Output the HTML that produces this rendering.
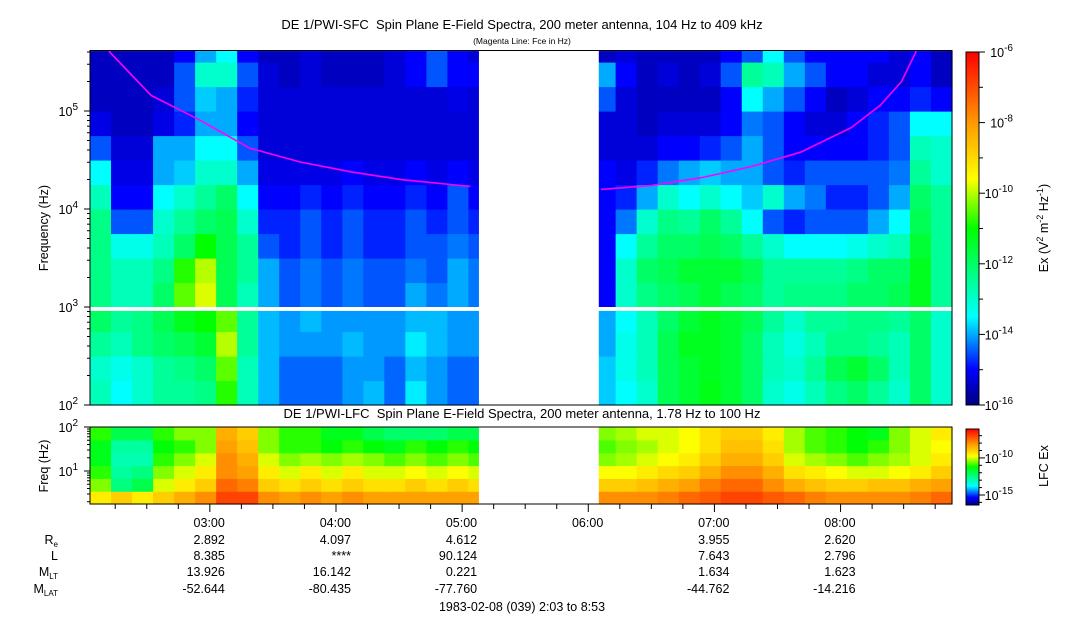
<!DOCTYPE html>
<html><head><meta charset="utf-8"><style>
html,body{margin:0;padding:0;background:#fff;}
svg{display:block;font-family:"Liberation Sans",Arial,sans-serif;}
</style></head><body>
<svg id="chart" width="1083" height="620" viewBox="0 0 1083 620" xmlns="http://www.w3.org/2000/svg">
<defs>
<linearGradient id="cmap" x1="0" y1="1" x2="0" y2="0">
<stop offset="0" stop-color="#000080"/><stop offset="0.1" stop-color="#0000ff"/><stop offset="0.25" stop-color="#00ffff"/><stop offset="0.5" stop-color="#00ff00"/><stop offset="0.64" stop-color="#ffff00"/><stop offset="0.8" stop-color="#ff9900"/><stop offset="1" stop-color="#ff0000"/>
</linearGradient>
</defs>
<g id="top-cells"></g>
<g id="low-cells"></g>
<g id="overlay"></g>
<text x="522" y="29" text-anchor="middle" font-size="13">DE 1/PWI-SFC&#160; Spin Plane E-Field Spectra, 200 meter antenna, 104 Hz to 409 kHz</text>
<text x="522" y="44" text-anchor="middle" font-size="8.5">(Magenta Line: Fce in Hz)</text>
<text x="522" y="418" text-anchor="middle" font-size="13">DE 1/PWI-LFC&#160; Spin Plane E-Field Spectra, 200 meter antenna, 1.78 Hz to 100 Hz</text>
<text transform="translate(48,228) rotate(-90)" text-anchor="middle" font-size="12.5">Frequency (Hz)</text>
<text transform="translate(48,466) rotate(-90)" text-anchor="middle" font-size="12.5">Freq (Hz)</text>
<rect x="966" y="52" width="13" height="353" fill="url(#cmap)" stroke="#000" stroke-width="1"/>
<rect x="966" y="429" width="13" height="76" fill="url(#cmap)" stroke="#000" stroke-width="1"/>
<text transform="translate(1048,228) rotate(-90)" text-anchor="middle" font-size="12.5">Ex (V<tspan dy="-5" font-size="9">2</tspan><tspan dy="5"> m</tspan><tspan dy="-5" font-size="9">-2</tspan><tspan dy="5"> Hz</tspan><tspan dy="-5" font-size="9">-1</tspan><tspan dy="5">)</tspan></text>
<text transform="translate(1048,466) rotate(-90)" text-anchor="middle" font-size="12.5">LFC Ex</text>
<g id="eph" font-size="12.5"></g>
<text x="522" y="611" text-anchor="middle" font-size="12.5">1983-02-08 (039) 2:03 to 8:53</text>
</svg>
<script>
// time columns: start minutes (since 00:00) every 10 min from 2:03
const colStart = 123, colStep = 10, nCols = 41;
const N = null;
// SFC log10(Ex); bin b covers log10 f = 2+0.25b .. 2+0.25(b+1)
const sfcBin0 = [-12.8,-13.5,-13,-12.5,-12.5,-12.3,-10.8,-12.8,-13.9,-14.4,-14.4,-14.4,-14.1,-13.9,-14.4,-13.6,-14.1,-14.4,-14.4,N,N,N,N,N,-13.8,-13.5,-13,-11.8,-11.5,-11.2,-11.5,-12,-13,-13.3,-12.8,-12.3,-12,-12.5,-13,-12,-13];
const sfcBin1 = [-13,-13.3,-13,-12.5,-12.3,-12,-10.5,-12.8,-13.9,-14.4,-14.4,-14.4,-14.1,-14.1,-14.4,-13.9,-14.1,-14.4,-14.4,N,N,N,N,N,-13.8,-13.3,-12.8,-11.8,-11.5,-11.3,-11.5,-12,-12.8,-13,-12.5,-11.8,-11.5,-12,-12.8,-12,-13];
const sfcBin2 = [-12.5,-12.8,-12.3,-12,-11.8,-11.5,-10,-12.5,-13.9,-14.1,-14.1,-14.1,-13.9,-14.1,-14.1,-13.6,-13.9,-14.1,-14.1,N,N,N,N,N,-14,-13.3,-12.8,-11.8,-11.3,-11.3,-11.5,-12,-12.8,-13.2,-12.8,-12.3,-12.3,-12.5,-12.8,-12,-13];
const sfcBin3 = [-12,-12.5,-12.3,-11.8,-11.3,-11,-10.5,-12.5,-13.9,-14.1,-13.9,-14.1,-14.1,-14.1,-14.1,-13.9,-13.9,-14.1,-14.1,N,N,N,N,N,-14,-13.5,-12.8,-12,-11.5,-11.3,-11.5,-11.8,-12.5,-13,-12.5,-12.5,-12.3,-12.3,-12.5,-12,-13];
const sfcBin4 = [-12.3,-12.8,-12.8,-12,-10.5,-9.8,-11.8,-12.8,-14,-14.5,-14.3,-14.5,-14.3,-14.5,-14.5,-14,-14.3,-14,-14.3,N,N,N,N,N,-15,-13,-12.3,-12,-11.8,-11.5,-11.8,-12,-12.5,-12.3,-12.3,-12.3,-12,-12,-11.8,-11.3,-12.5];
const sfcBin5 = [-12.3,-12.8,-12.8,-12.3,-10.8,-10,-11.8,-12.5,-14,-14.5,-14.3,-14.5,-14.3,-14.5,-14.5,-14.3,-14.5,-14,-14.3,N,N,N,N,N,-15,-13,-12,-11.8,-11.5,-11.5,-11.5,-11.8,-12.5,-12.5,-12.5,-12.5,-12.3,-12,-12,-11.3,-12.5];
const sfcBin6 = [-12.3,-13.3,-13.3,-12.8,-12,-11,-11.8,-12.5,-14.5,-14.8,-14.5,-14.8,-14.5,-14.8,-14.8,-14.5,-14.5,-14.3,-14.5,N,N,N,N,N,-15,-13.5,-12.5,-12,-12,-11.8,-12,-12.5,-13,-13.5,-13.5,-13.5,-13.3,-13,-12.8,-11.5,-12.5];
const sfcBin7 = [-12.3,-14.5,-14.5,-13,-12.5,-12,-11.8,-13,-14.8,-14.8,-14.5,-14.8,-14.5,-14.8,-14.8,-14.5,-14.8,-14.5,-14.8,N,N,N,N,N,-15,-14.3,-13,-12.3,-12.5,-12,-12.5,-13.5,-14.5,-14.8,-14.5,-14.5,-14.5,-14,-13.5,-11.8,-12.5];
const sfcBin8 = [-12.8,-15,-15,-13.5,-13,-12.5,-12,-13.5,-15,-15,-14.8,-15,-14.8,-15,-15,-14.8,-15,-14.5,-15,N,N,N,N,N,-15,-14.8,-14,-13,-13.5,-13,-13.5,-13.8,-13,-14,-14.3,-14.8,-14.8,-14.5,-14,-12,-12.5];
const sfcBin9 = [-13.5,-15.2,-15.2,-14,-13.8,-13,-13,-14,-15.2,-15.2,-15.2,-15.2,-15,-15.2,-15.2,-15,-15.2,-15,-15.2,N,N,N,N,N,-15,-15.2,-14.8,-14.3,-14,-13.8,-14,-14,-14.5,-14.8,-14.5,-14.5,-14.5,-14.5,-14.3,-12.5,-13];
const sfcBin10 = [-14.5,-15.3,-15.3,-14,-14,-13.5,-13.5,-14.5,-15.3,-15.3,-15.3,-15.3,-15.3,-15.3,-15.3,-15.3,-15.3,-15.3,-15.3,N,N,N,N,N,-15.3,-15.3,-15.3,-15,-15,-14.8,-14.5,-14,-14.5,-15,-15,-15,-15,-14.8,-14.5,-12.8,-13];
const sfcBin11 = [-15.2,-15.5,-15.5,-15.2,-14.8,-14,-14,-15,-15.3,-15.3,-15.3,-15.3,-15.3,-15.3,-15.3,-15.3,-15.3,-15.3,-15.3,N,N,N,N,N,-15.3,-15.3,-15.5,-15.3,-15.3,-15.3,-15,-14.3,-14.5,-15,-15.3,-15.3,-15,-14.8,-14.5,-13.5,-13.5];
const sfcBin12 = [-15.5,-15.5,-15.5,-15.3,-14.5,-13.8,-14,-14.8,-15.3,-15.3,-15.3,-15.3,-15.3,-15.3,-15.3,-15.3,-15.3,-15.2,-15.3,N,N,N,N,N,-14.5,-15.3,-15.5,-15.5,-15.5,-15.5,-15,-13.5,-14,-14.5,-15,-15.5,-15.3,-15,-15,-14.8,-15];
const sfcBin13 = [-15.5,-15.5,-15.5,-15.5,-14.5,-13,-13,-14.5,-15.3,-15.5,-15.3,-15.5,-15.5,-15.5,-15.3,-15,-14.5,-15,-15,N,N,N,N,N,-14,-15,-15.5,-15.3,-15.5,-15.3,-14.5,-12.5,-12.8,-14,-14.5,-15,-15,-15.3,-15.3,-15,-15.5];
const sfcBin14 = [-15.5,-15.5,-15.5,-15.5,-15,-14,-13.5,-15,-15.5,-15.5,-15.3,-15.5,-15.5,-15.5,-15.3,-15,-14.5,-15,-15.3,N,N,N,N,N,-15.5,-15.3,-15.5,-15.5,-15.5,-15.5,-15,-14.5,-13.5,-14.5,-15,-15,-15,-15,-15.3,-15,-15.5];
const sfcRows = [sfcBin0,sfcBin1,sfcBin2,sfcBin3,sfcBin4,sfcBin5,sfcBin6,sfcBin7,sfcBin8,sfcBin9,sfcBin10,sfcBin11,sfcBin12,sfcBin13,sfcBin14];
// LFC log10(Ex), 6 bins from 1.78 Hz up to 100 Hz, bottom first
const lfcBin0 = [-9.5,-9,-9.5,-9,-8.5,-8,-7,-7,-8,-8.3,-8,-8.3,-8,-8.3,-8.3,-8.3,-8.3,-8.3,-8.3,N,N,N,N,N,-8,-8,-8,-7.8,-7.5,-7.3,-7,-7,-7.3,-7.5,-7.8,-8,-8,-8,-8,-7.8,-7.5];
const lfcBin1 = [-10.5,-12.5,-12,-10,-9.5,-9,-7.5,-7.8,-9,-9.3,-9,-9.3,-9,-9.3,-9.3,-9,-9.3,-9,-9.3,N,N,N,N,N,-9,-9,-8.8,-8.5,-8.3,-7.8,-7.5,-7.5,-8,-8.5,-8.8,-9,-9,-8.8,-8.8,-8.5,-8.3];
const lfcBin2 = [-11,-12.8,-12.5,-10.5,-10,-9.5,-8,-8.3,-9.5,-10,-9.5,-10,-9.5,-10,-10,-9.8,-10,-9.8,-10,N,N,N,N,N,-9.8,-9.8,-9.5,-9.2,-9,-8.5,-8,-8,-8.5,-9.3,-9.5,-9.8,-10,-10,-9.8,-9.5,-9];
const lfcBin3 = [-11.5,-13,-13,-11,-10.5,-10,-8,-8.5,-10,-10.5,-10.3,-10.5,-10.3,-10.5,-10.8,-10.5,-10.8,-10.5,-10.8,N,N,N,N,N,-10.5,-10.3,-10,-9.8,-9.5,-9,-8.5,-8.5,-9,-10,-10.3,-10.5,-10.8,-10.5,-10.3,-10,-9.5];
const lfcBin4 = [-11.5,-12.8,-12.8,-11.3,-11,-10.5,-8.3,-8.8,-10.5,-11,-11,-11.3,-11,-11.3,-11.5,-11,-11.3,-11,-11.3,N,N,N,N,N,-10.8,-10.5,-10.3,-10,-9.8,-9.3,-8.8,-8.8,-9.3,-10.3,-10.8,-11,-11.3,-11,-10.5,-10,-9.8];
const lfcBin5 = [-11,-12,-12,-11,-10.5,-10.5,-8.5,-9,-10.5,-11,-11,-11.5,-11.5,-12,-12.3,-12.3,-12.3,-12,-12,N,N,N,N,N,-10.5,-10.3,-10,-10,-9.8,-9.3,-9,-9,-9.5,-10.3,-10.8,-11,-11.3,-11.5,-10.5,-10,-9.5];
const lfcRows = [lfcBin0,lfcBin1,lfcBin2,lfcBin3,lfcBin4,lfcBin5];
// Fce line (minutes since 00:00, log10 Hz)
const fceLeftT = [132,152,175,199,223,247,271,304];
const fceLeftF = [5.61,5.16,4.91,4.62,4.48,4.38,4.30,4.23];
const fceRightT = [366,390,414,437,461,485,499,509,516];
const fceRightF = [4.20,4.24,4.32,4.43,4.58,4.83,5.06,5.30,5.61];
// data gap
const gapStartMin = 308, gapEndMin = 365;
// ephemeris
const tickHours = ["03:00","04:00","05:00","06:00","07:00","08:00"];
const ephRe   = ["2.892","4.097","4.612","","3.955","2.620"];
const ephL    = ["8.385","****","90.124","","7.643","2.796"];
const ephMLT  = ["13.926","16.142","0.221","","1.634","1.623"];
const ephMLAT = ["-52.644","-80.435","-77.760","","-44.762","-14.216"];

const NS='http://www.w3.org/2000/svg';
const X0=90, X1=952, T0=123, T1=533;
const xS = t => X0 + (t-T0)/(T1-T0)*(X1-X0);
const TOPY0=405, TOPPD=98, TOPMAX=Math.log10(409000);
const yTop = lf => TOPY0 - (lf-2)*TOPPD;
const LOWY0=504, LOWY1=427, LOWMIN=0.25, LOWMAX=2;
const yLow = lf => LOWY0 - (lf-LOWMIN)/(LOWMAX-LOWMIN)*(LOWY0-LOWY1);
const stops=[[0,[0,0,128]],[0.1,[0,0,255]],[0.25,[0,255,255]],[0.5,[0,255,0]],[0.64,[255,255,0]],[0.8,[255,153,0]],[1,[255,0,0]]];
function cmap(f){f=Math.max(0,Math.min(1,f));for(let i=1;i<stops.length;i++){if(f<=stops[i][0]){const a=stops[i-1],b=stops[i],u=(f-a[0])/(b[0]-a[0]);const c=a[1].map((v,k)=>Math.round(v+(b[1][k]-v)*u));return `rgb(${c})`;}}return 'rgb(255,0,0)';}
function mk(tag,attrs,parent){const e=document.createElementNS(NS,tag);for(const k in attrs)e.setAttribute(k,attrs[k]);parent.appendChild(e);return e;}
const gT=document.getElementById('top-cells'), gL=document.getElementById('low-cells'), gO=document.getElementById('overlay');
sfcRows.forEach((row,b)=>{const lf0=2+0.25*b, lf1=Math.min(TOPMAX,lf0+0.25);row.forEach((v,i)=>{if(v===null)return;const t0=colStart+i*colStep,t1=Math.min(T1,t0+colStep);const x=xS(t0),w=xS(t1)-x;const r=mk('rect',{x:x,y:yTop(lf1),width:w+0.6,height:yTop(lf0)-yTop(lf1)+0.6,fill:cmap((v+16)/10)},gT);

});});
const lstep=(LOWMAX-LOWMIN)/lfcRows.length;
lfcRows.forEach((row,b)=>{const lf0=LOWMIN+lstep*b, lf1=lf0+lstep;row.forEach((v,i)=>{if(v===null)return;const t0=colStart+i*colStep,t1=Math.min(T1,t0+colStep);const x=xS(t0),w=xS(t1)-x;const r=mk('rect',{x:x,y:yLow(lf1),width:w+0.6,height:yLow(lf0)-yLow(lf1)+0.6,fill:cmap((v+16.35)/10.25)},gL);

});});
// gaps
let g1=mk('rect',{x:xS(gapStartMin),y:50,width:xS(gapEndMin)-xS(gapStartMin),height:356,fill:'#fff'},gO);


let g2=mk('rect',{x:xS(gapStartMin),y:426,width:xS(gapEndMin)-xS(gapStartMin),height:79,fill:'#fff'},gO);


let g3=mk('rect',{x:X0,y:yTop(3.0),width:X1-X0,height:yTop(2.96)-yTop(3.0),fill:'#fff'},gO);


// fce
function fcePath(T,F,name){const d=T.map((t,i)=>(i?'L':'M')+xS(t).toFixed(1)+','+yTop(F[i]).toFixed(1)).join(' ');const p=mk('path',{d:d,fill:'none',stroke:'#ff00ff','stroke-width':1.6},gO);

}
fcePath(fceLeftT,fceLeftF,'fce-line-left');
fcePath(fceRightT,fceRightF,'fce-line-right');
// frames
let f1=mk('rect',{x:X0,y:50.5,width:X1-X0,height:TOPY0-50.5,fill:'none',stroke:'#000'},gO);


let f2=mk('rect',{x:X0,y:LOWY1,width:X1-X0,height:LOWY0-LOWY1,fill:'none',stroke:'#000'},gO);


// y ticks
function sup(x,y,base,exp,name){const t=mk('text',{x:x,y:y,'text-anchor':'end','font-size':12.5},gO);t.innerHTML=`${base}<tspan dy="-6" font-size="10">${exp}</tspan>`;

}
for(let d=2;d<=5;d++){for(let m=1;m<10;m++){const lf=d+Math.log10(m);if(lf>TOPMAX)break;const y=yTop(lf);mk('line',{x1:X0-(m==1?6:3),x2:X0,y1:y,y2:y,stroke:'#000'},gO);}
sup(78,yTop(d)+5,'10',d,'y-tick-label');}
for(let d=0;d<=2;d++){for(let m=1;m<10;m++){const lf=d+Math.log10(m);if(lf<LOWMIN||lf>LOWMAX)continue;const y=yLow(lf);mk('line',{x1:X0-(m==1?6:3),x2:X0,y1:y,y2:y,stroke:'#000'},gO);if(m==1&&d>0)sup(78,y+5,'10',d,'lfc-y-tick-label');}}
// colorbar ticks
for(let e=-16;e<=-6;e++){const y=405-(e+16)/10*353;mk('line',{x1:979,x2:e%2==0?985:983,y1:y,y2:y,stroke:'#000'},gO);if(e%2==0)sup(1013,y+5,'10',e,'colorbar-tick-label');}
for(let e=-16;e<=-7;e++){const y=505-(e+16.35)/10.25*76;mk('line',{x1:979,x2:e%5==0?985:982,y1:y,y2:y,stroke:'#000'},gO);if(e==-10||e==-15)sup(1013,y+5,'10',e,'lfc-colorbar-tick-label');}
// x ticks
for(let t=135;t<=T1;t+=15){const x=xS(t);mk('line',{x1:x,x2:x,y1:LOWY0,y2:LOWY0+(t%60==0?8:5),stroke:'#000'},gO);}
const eph=document.getElementById('eph');
const rowsY=[527,544,560,576,593];
const rowData=[tickHours,ephRe,ephL,ephMLT,ephMLAT];
const rowNames=['x-tick-label','ephem-re','ephem-l','ephem-mlt','ephem-mlat'];
tickHours.forEach((h,k)=>{const x=xS(180+60*k)+15;rowData.forEach((arr,r)=>{if(!arr[k])return;const t=mk('text',{x:x,y:rowsY[r],'text-anchor':'end'},eph);t.textContent=arr[k];

});});
const lab=[['R','e'],['L',''],['M','LT'],['M','LAT']];
lab.forEach((l,r)=>{const t=mk('text',{x:58,y:rowsY[r+1],'text-anchor':'end'},eph);t.innerHTML=l[0]+(l[1]?`<tspan dy="3" font-size="8">${l[1]}</tspan>`:'');

});
</script>
</body></html>
